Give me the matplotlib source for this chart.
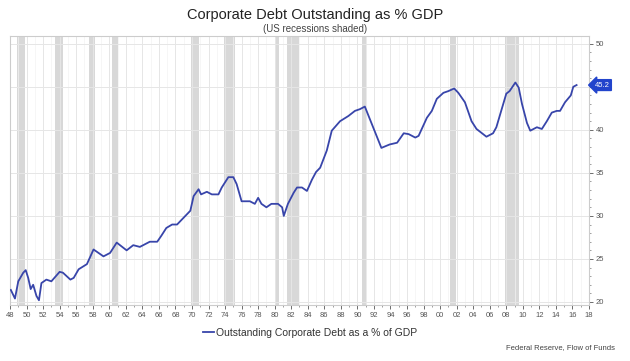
import numpy as np
import matplotlib
matplotlib.use("Agg")
import matplotlib.pyplot as plt
from matplotlib.ticker import MultipleLocator, FuncFormatter

plt.rcParams['font.family'] = ['Liberation Sans', 'DejaVu Sans']

#%% data

years = [1948.1, 1948.6, 1949.0, 1949.6, 1949.9, 1950.2, 1950.5, 1950.8, 1951.2, 1951.5,
         1951.8, 1952.4, 1953.0, 1954.0, 1954.4, 1955.3, 1955.7, 1956.3, 1957.3, 1958.1,
         1959.3, 1960.1, 1960.9, 1962.1, 1962.9, 1963.7, 1964.9, 1965.8, 1966.3, 1966.9,
         1967.6, 1968.2, 1969.0, 1969.8, 1970.2, 1970.8, 1971.1, 1971.8, 1972.4, 1973.2,
         1973.6, 1974.4, 1975.0, 1975.4, 1976.0, 1977.0, 1977.6, 1978.0, 1978.4, 1979.0,
         1979.6, 1980.4, 1980.9, 1981.1, 1981.6, 1982.3, 1982.7, 1983.3, 1983.9, 1984.5,
         1985.0, 1985.5, 1986.3, 1986.9, 1987.9, 1988.9, 1989.7, 1990.3, 1990.9, 1991.9,
         1992.9, 1993.9, 1994.8, 1995.6, 1996.2, 1997.0, 1997.4, 1998.4, 1999.0, 1999.6,
         2000.4, 2001.0, 2001.7, 2002.2, 2003.0, 2003.8, 2004.4, 2005.6, 2006.4, 2006.8,
         2008.0, 2008.4, 2009.1, 2009.5, 2009.9, 2010.5, 2010.9, 2011.7, 2012.3, 2012.9,
         2013.5, 2014.1, 2014.5, 2015.1, 2015.8, 2016.1, 2016.5]
debt_pct = [21.4, 20.4, 22.4, 23.4, 23.7, 22.8, 21.5, 22.0, 20.7, 20.2,
            22.2, 22.6, 22.4, 23.5, 23.4, 22.6, 22.8, 23.8, 24.4, 26.1,
            25.3, 25.7, 26.9, 26.0, 26.6, 26.4, 27.0, 27.0, 27.7, 28.6,
            29.0, 29.0, 29.8, 30.6, 32.3, 33.1, 32.5, 32.8, 32.5, 32.5,
            33.3, 34.5, 34.5, 33.7, 31.7, 31.7, 31.4, 32.1, 31.4, 31.0,
            31.4, 31.4, 31.0, 30.0, 31.4, 32.7, 33.3, 33.3, 32.9, 34.2,
            35.1, 35.6, 37.6, 39.9, 41.0, 41.6, 42.2, 42.4, 42.7, 40.3,
            37.9, 38.3, 38.5, 39.6, 39.5, 39.1, 39.3, 41.4, 42.2, 43.6,
            44.3, 44.5, 44.8, 44.3, 43.2, 41.0, 40.1, 39.2, 39.6, 40.3,
            44.2, 44.5, 45.5, 44.9, 43.0, 40.8, 39.9, 40.3, 40.1, 41.0,
            42.0, 42.2, 42.2, 43.2, 44.0, 45.0, 45.2]

# US recessions (start, end)
rec_start = [1948.9, 1953.5, 1957.6, 1960.3, 1969.9, 1973.9, 1980.0, 1981.5, 1990.5, 2001.2, 2007.9]
rec_end   = [1949.8, 1954.4, 1958.3, 1961.1, 1970.9, 1975.2, 1980.5, 1982.9, 1991.2, 2001.9, 2009.5]

last_value = 45.2

#%% figure

W, H = 630, 361
fig = plt.figure(figsize=(W/100, H/100), dpi=100)
ax = fig.add_axes([10/W, 1-305/H, 579/W, 269/H])

for s, e in zip(rec_start, rec_end):
    ax.axvspan(s, e, color='#d8d8d8', lw=0, zorder=1)

ax.plot(years, debt_pct, color='#3845aa', lw=1.3, zorder=3,
        label='Outstanding Corporate Debt as a % of GDP')

ax.set_xlim(1948, 2018)
ax.set_ylim(19.65, 50.9)

ax.xaxis.set_major_locator(MultipleLocator(2))
ax.xaxis.set_minor_locator(MultipleLocator(1))
ax.xaxis.set_major_formatter(FuncFormatter(lambda v, p: '%02d' % (int(round(v)) % 100)))
ax.yaxis.set_major_locator(MultipleLocator(5))
ax.yaxis.set_minor_locator(MultipleLocator(1))
# the 45 label sits under the last-value tag
ax.yaxis.set_major_formatter(FuncFormatter(lambda v, p: '' if round(v) == 45 else '%d' % round(v)))
ax.yaxis.tick_right()

ax.tick_params(axis='both', which='major', labelsize=5.5, colors='#555555',
               length=3, width=0.6, pad=2)
ax.tick_params(axis='both', which='minor', length=1.5, width=0.5, colors='#777777')

ax.grid(which='major', color='#e6e6e6', lw=0.7, zorder=0)
ax.grid(which='minor', axis='x', color='#f3f3f3', lw=0.5, zorder=0)

for sp in ax.spines.values():
    sp.set_color('#cccccc')
    sp.set_linewidth(0.8)

# last value tag
ax.annotate('%.1f' % last_value, xy=(2018, last_value), xycoords='data',
            xytext=(602, last_value), textcoords=('figure pixels', 'data'),
            fontsize=5.5, color='white', ha='center', va='center', annotation_clip=False,
            bbox=dict(boxstyle='larrow,pad=0.25', fc='#2244cc', ec='#2244cc'))

fig.text(315/W, 1-15/H, 'Corporate Debt Outstanding as % GDP', ha='center', va='center',
         fontsize=10.5, color='#222222')
fig.text(315/W, 1-29/H, '(US recessions shaded)', ha='center', va='center',
         fontsize=7, color='#444444')

fig.legend(loc='center', bbox_to_anchor=(310/W, 1-333/H), frameon=False, fontsize=7.5,
           handlelength=1.0, handletextpad=0.2, labelcolor='#333333')

fig.text(615/W, 1-348/H, 'Federal Reserve, Flow of Funds', ha='right', va='center',
         fontsize=5.5, color='#444444')

fig.savefig('out.png', dpi=100)
